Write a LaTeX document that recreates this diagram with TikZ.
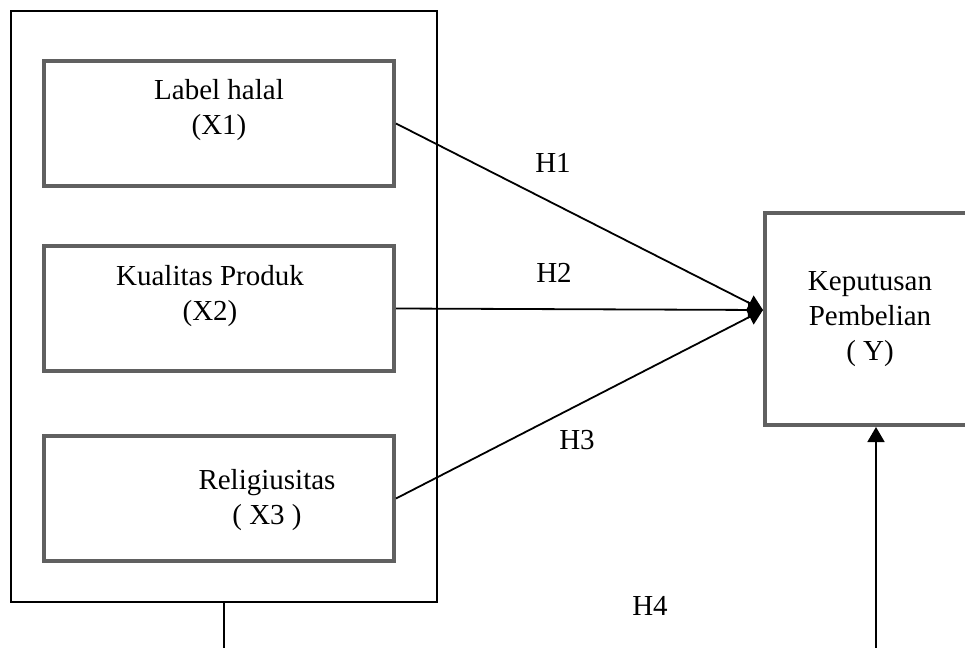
\documentclass[tikz,border=0pt]{standalone}
\usepackage{fontspec}
\setmainfont{Liberation Serif}
\usetikzlibrary{arrows.meta,positioning}

\definecolor{boxgray}{RGB}{96,96,96}

\begin{document}
\begin{tikzpicture}[x=0.5pt, y=-0.5pt,
    var/.style={draw=boxgray, line width=2pt, minimum width=175pt, minimum height=62.5pt, inner sep=0pt},
    lbl/.style={align=center, font=\fontsize{14.5}{17.5}\selectfont, inner sep=0pt},
    arr/.style={line width=0.9pt, -{Triangle[length=7.5pt,width=8.5pt]}}]
      \clip (0,0) rectangle (965,648);

      % group of independent variables
      \node[draw, line width=1pt, minimum width=213pt, minimum height=295.5pt] (grp) at (224,306.5) {};
      \node[var] (x1) at (219,123.5) {};
      \node[var] (x2) [below=28pt of x1] {};
      \node[var] (x3) [below=30.5pt of x2] {};
      \node[lbl, yshift=6.75pt] (t1) at (x1) {Label halal\\(X1)};
      \node[lbl, xshift=-4.5pt, yshift=6.25pt] (t2) at (x2) {Kualitas Produk\\(X2)};
      \node[lbl, xshift=24pt, yshift=-0.75pt] (t3) at (x3) {Religiusitas\\( X3 )};

      % dependent variable
      \node[var, minimum width=105pt, minimum height=106pt, lbl] (y) at (870,319) {Keputusan\\Pembelian\\( Y)};

      \node[lbl] (h1) at (553,163) {H1};
      \node[lbl] (h2) at (554,273) {H2};
      \node[lbl] (h3) at (577,440) {H3};
      \node[lbl] (h4) at (650,606) {H4};

      \coordinate (e1) at (224,660);
      \coordinate (e2) at (876,660);

      \draw[arr] (x1.east) -- ([yshift=4.5pt]y.west);
      \draw[arr] (x2.east) -- ([yshift=4.5pt]y.west);
      \draw[arr] (x3.east) -- ([yshift=4.5pt]y.west);
      \draw[line width=0.9pt] (grp) -- (e1);
      \draw[arr] (e2) -- (e2 |- y.south);
    \end{tikzpicture}
\end{document}
